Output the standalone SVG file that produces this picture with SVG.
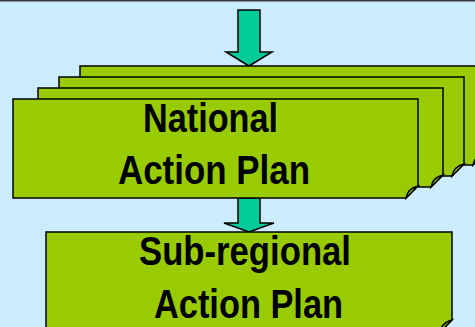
<svg xmlns="http://www.w3.org/2000/svg" width="475" height="327" viewBox="0 0 475 327">
<style>
.page{fill:#99CC00;stroke:#000;stroke-width:1.5;stroke-linejoin:miter}
.arrow{fill:#00CC99;stroke:#000;stroke-width:1.5}
.lbl{font-family:"Liberation Sans",Arial,sans-serif;font-weight:bold;font-size:40px;fill:#000}
</style>
<rect x="0" y="0" width="475" height="327" fill="#CCECFF"/>
<line x1="0" y1="0.75" x2="475" y2="0.75" stroke="#3A3A3A" stroke-width="1.5"/>
<g id="connectors">
<polygon class="arrow" points="238,10 260,10 260,52 272,52 249,66 226,52 238,52"/>
<polygon class="arrow" points="238,198 260,198 260,223 274,223 249,232 224,223 238,223"/>
</g>
<g id="national">
<path class="page" d="M80,66 H485 V153 L473,165 H80 Z"/>
<path class="page" d="M59,77 H464 V164 L452,176 H59 Z"/>
<path class="page" d="M473,165 C474,159 477,155 485,153 Z"/>
<path class="page" d="M452,176 C453,170 456,166 464,164 Z"/>
<path class="page" d="M38,88 H443 V175 L431,187 H38 Z"/>
<path class="page" d="M431,187 C432,181 435,177 443,175 Z"/>
<path class="page" d="M13,99 H418 V186 L406,198 H13 Z"/>
<path class="page" d="M406,198 C407,192 410,188 418,186 Z"/>
<text class="lbl" x="143" y="132" textLength="135" lengthAdjust="spacingAndGlyphs">National</text>
<text class="lbl" x="118" y="184" textLength="192" lengthAdjust="spacingAndGlyphs">Action Plan</text>
</g>
<g id="subregional">
<path class="page" d="M46,232 H452 V320 L440,332 H46 Z"/>
<path class="page" d="M440,332 C441,326 444,322 452,320 Z"/>
<text class="lbl" x="139" y="265" textLength="212" lengthAdjust="spacingAndGlyphs">Sub-regional</text>
<text class="lbl" x="154" y="318" textLength="189" lengthAdjust="spacingAndGlyphs">Action Plan</text>
</g>
</svg>
